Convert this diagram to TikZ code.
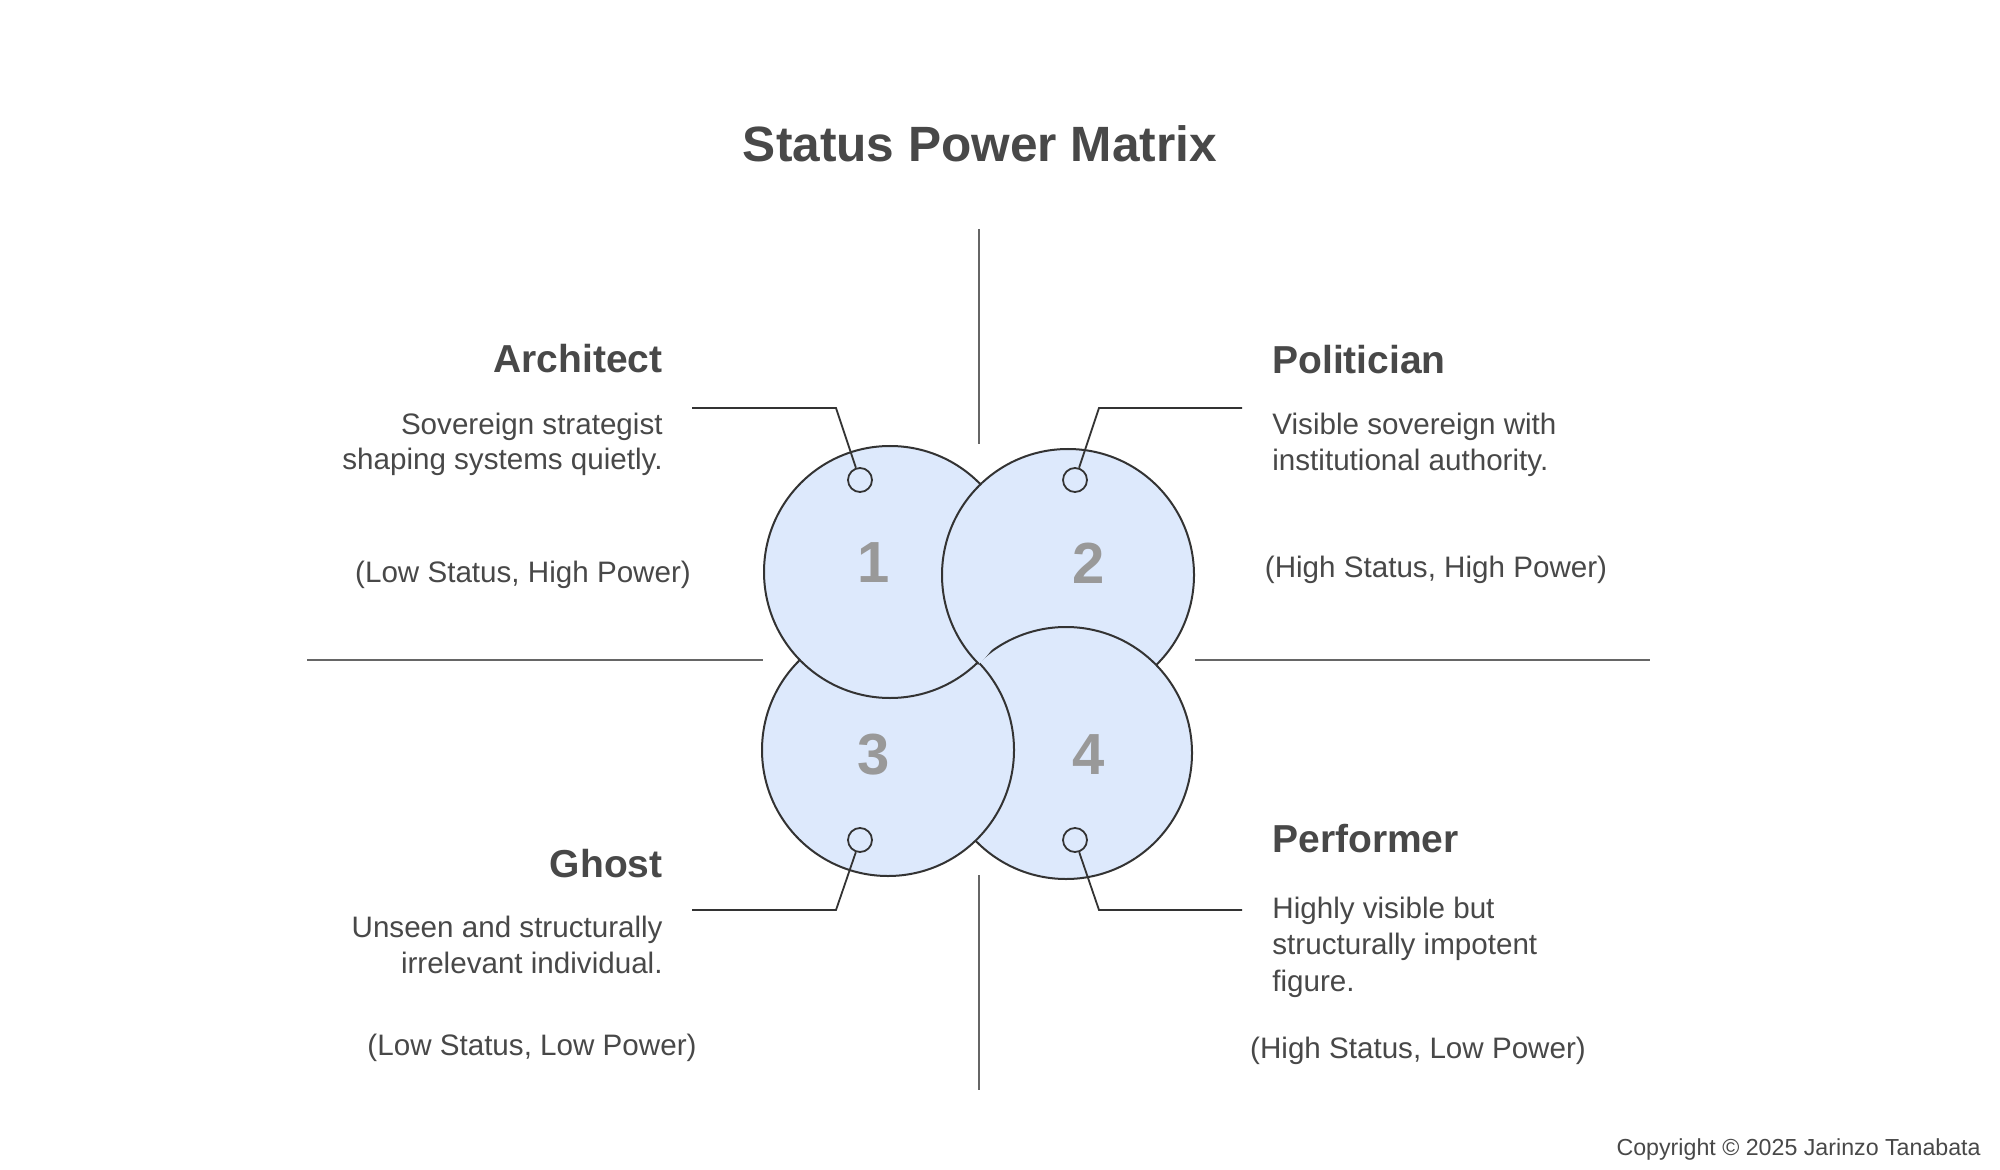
\documentclass[tikz,border=0pt]{standalone}
\usepackage{fontspec}
\setmainfont{Liberation Sans}
\usetikzlibrary{arrows}
\definecolor{ink}{HTML}{484848}
\definecolor{rim}{HTML}{333333}
\definecolor{rule}{HTML}{666666}
\definecolor{bubble}{HTML}{DDE9FC}
\definecolor{digit}{HTML}{999999}
\tikzset{
	quad/.style={circle,draw=rim,fill=bubble,line width=1pt,minimum size=126pt,inner sep=0pt},
	pin/.style={circle,draw=rim,fill=bubble,line width=0.9pt,minimum size=12pt,inner sep=0pt},
	digitlbl/.style={font=\fontsize{29}{29}\selectfont\bfseries,text=digit,inner sep=0pt},
	headlbl/.style={font=\fontsize{19.5}{22}\selectfont\bfseries,text=ink,inner sep=0pt},
	desclbl/.style={font=\fontsize{14.8}{18}\selectfont,text=ink,inner sep=0pt},
	divider/.style={draw=rule,line width=1pt},
	leader/.style={draw=rim,line width=0.9pt}
}
\begin{document}
\begin{tikzpicture}[x=0.5pt,y=-0.5pt]
	\useasboundingbox (0,0) rectangle (2000,1170);
	%%  Title  %%%%%%%%
	\node[font=\fontsize{24.8}{28}\selectfont\bfseries,text=ink,inner sep=0pt,anchor=base] (title) at (980,162) {Status Power Matrix};
	%%  Dividers  %%%%%%%%
	\coordinate (vt1) at (979,229); \coordinate (vt2) at (979,444);
	\coordinate (vb1) at (979,875); \coordinate (vb2) at (979,1090);
	\coordinate (hl1) at (307,660); \coordinate (hl2) at (763,660);
	\coordinate (hr1) at (1195,660); \coordinate (hr2) at (1650,660);
	\draw[divider] (vt1) -- (vt2);
	\draw[divider] (vb1) -- (vb2);
	\draw[divider] (hl1) -- (hl2);
	\draw[divider] (hr1) -- (hr2);
	%%  Circles  %%%%%%%%
	\node[quad] (c2) at (1068,575) {};
	\node[quad] (c4) at (1066,753) {};
	\node[quad] (c3) at (888,750) {};
	\node[quad] (c1) at (890,572) {};
	\begin{scope}
		\clip (c1.center) circle (64pt);
		\draw[draw=rim,fill=bubble,line width=1pt] (c2.center) circle (63pt);
	\end{scope}
	\node[digitlbl] (n1) at (874,563) {1};
	\node[digitlbl] (n2) at (1089,563) {2};
	\node[digitlbl] (n3) at (874,755) {3};
	\node[digitlbl] (n4) at (1089,755) {4};
	%%  Pins and leaders  %%%%%%%%
	\node[pin] (p1) at (860,480) {};
	\node[pin] (p2) at (1075,480) {};
	\node[pin] (p3) at (860,840) {};
	\node[pin] (p4) at (1075,840) {};
	\coordinate (k1) at (836,408); \coordinate (e1) at (692,408);
	\coordinate (k2) at (1099,408); \coordinate (e2) at (1242,408);
	\coordinate (k3) at (836,910); \coordinate (e3) at (692,910);
	\coordinate (k4) at (1099,910); \coordinate (e4) at (1242,910);
	\draw[leader] (p1) -- (k1) -- (e1);
	\draw[leader] (p2) -- (k2) -- (e2);
	\draw[leader] (p3) -- (k3) -- (e3);
	\draw[leader] (p4) -- (k4) -- (e4);
	%%  Architect  %%%%%%%%
	\node[headlbl,anchor=base east] (archhead) at (663,373) {Architect};
	\node[desclbl,anchor=base east] (archa) at (663,435) {Sovereign strategist};
	\node[desclbl,anchor=base east] (archb) at (663,470) {shaping systems quietly.};
	\node[desclbl,anchor=base] (archtag) at (523,582) {(Low Status, High Power)};
	%%  Politician  %%%%%%%%
	\node[headlbl,anchor=base west] (polhead) at (1272,374) {Politician};
	\node[desclbl,anchor=base west] (pola) at (1272,435) {Visible sovereign with};
	\node[desclbl,anchor=base west] (polb) at (1272,471) {institutional authority.};
	\node[desclbl,anchor=base] (poltag) at (1436,577) {(High Status, High Power)};
	%%  Ghost  %%%%%%%%
	\node[headlbl,anchor=base east] (ghosthead) at (663,877) {Ghost};
	\node[desclbl,anchor=base east] (ghosta) at (663,937) {Unseen and structurally};
	\node[desclbl,anchor=base east] (ghostb) at (663,973) {irrelevant individual.};
	\node[desclbl,anchor=base] (ghosttag) at (532,1055) {(Low Status, Low Power)};
	%%  Performer  %%%%%%%%
	\node[headlbl,anchor=base west] (perfhead) at (1272,852) {Performer};
	\node[desclbl,anchor=base west] (perfa) at (1272,918) {Highly visible but};
	\node[desclbl,anchor=base west] (perfb) at (1272,954) {structurally impotent};
	\node[desclbl,anchor=base west] (perfc) at (1272,991) {figure.};
	\node[desclbl,anchor=base] (perftag) at (1418,1058) {(High Status, Low Power)};
	%%  Footer  %%%%%%%%
	\node[font=\fontsize{11.6}{14}\selectfont,text=ink,inner sep=0pt,anchor=base east] (copy) at (1981,1155) {Copyright © 2025 Jarinzo Tanabata};
\end{tikzpicture}
\end{document}
